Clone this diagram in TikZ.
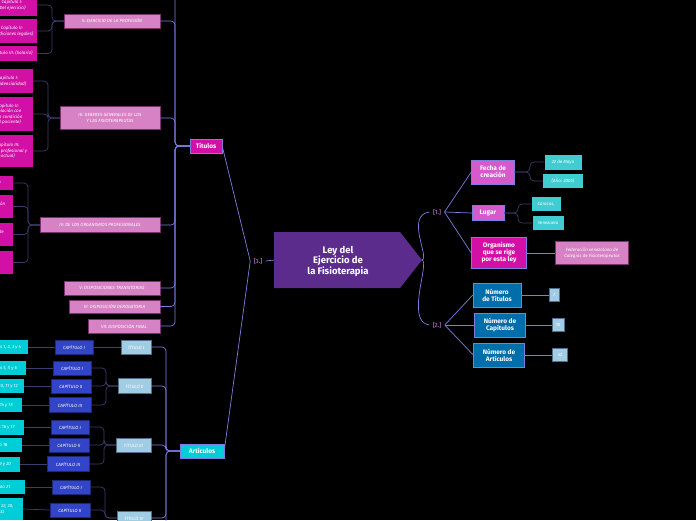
\documentclass[tikz,border=0pt]{standalone}
\usepackage{fontspec}
\setmainfont{Fira Sans}
\definecolor{cpur}{RGB}{92,44,140}
\definecolor{cmag}{RGB}{210,16,165}
\definecolor{cmag2}{RGB}{215,90,205}
\definecolor{cpink}{RGB}{214,130,196}
\definecolor{cpinkd}{RGB}{120,50,110}
\definecolor{ccyan}{RGB}{0,205,215}
\definecolor{ctq}{RGB}{64,205,210}
\definecolor{ccap}{RGB}{50,68,200}
\definecolor{ccapd}{RGB}{30,40,120}
\definecolor{clb}{RGB}{160,205,228}
\definecolor{clbd}{RGB}{80,110,140}
\definecolor{cblu}{RGB}{0,110,170}
\definecolor{cline}{RGB}{125,125,225}
\definecolor{cdark}{RGB}{60,60,110}
\definecolor{clbl}{RGB}{150,90,160}
\begin{document}
\begin{tikzpicture}[x=1pt,y=-1pt,
 bx/.style={inner sep=0pt,align=center,text=white},
 head/.style={bx,font=\fontsize{6.5}{7}\selectfont\bfseries,draw=cline},
 leaf/.style={bx,font=\fontsize{4.5}{5.5}\selectfont\itshape},
 mag/.style={leaf,fill=cmag},
 pink/.style={leaf,fill=cpink,draw=cpinkd},
 cyan/.style={leaf,fill=ccyan},
 tq/.style={leaf,fill=ctq},
 capbox/.style={leaf,fill=ccap,draw=ccapd},
 lb/.style={leaf,fill=clb,draw=clbd},
 blu/.style={head,fill=cblu},
 main/.style={draw=cline,line width=0.7pt},
 sub/.style={draw=cdark,line width=0.7pt,rounded corners=4pt},
 subm/.style={draw=cline,line width=0.7pt,rounded corners=4pt},
 lbl/.style={font=\fontsize{6}{7}\selectfont\bfseries,text=clbl}]
\fill[black] (0,0) rectangle (696,520);
\useasboundingbox (0,0) rectangle (696,520);
\clip (0,0) rectangle (696,520);
% central
\fill[cpur] (274,232) -- (400,232) -- (422,260) -- (400,288) -- (274,288) -- cycle;
\node[bx,font=\fontsize{9.5}{10.5}\selectfont\bfseries] (c) at (338,261) {Ley del\\Ejercicio de\\la Fisioterapia};
\coordinate (ce) at (422,260);
\coordinate (cw) at (274,260);
\node[lbl] (n1) at (437,212) {[1.]};
\node[lbl] (n2) at (437,325) {[2.]};
\node[lbl] (n3) at (258,261) {[3.]};
\draw[main] (ce) .. controls (430,258) and (405,215) .. (n1.west);
\draw[main] (ce) .. controls (430,262) and (405,322) .. (n2.west);
\draw[main] (cw) -- (n3.east);
% right branch 1
\node[head,fill=cmag2,minimum width=43pt,minimum height=24pt] (fe) at (493,172) {Fecha de\\creación};
\node[head,fill=cmag2,minimum width=32pt,minimum height=15pt] (lu) at (488,213) {Lugar};
\node[head,fill=cmag,minimum width=55pt,minimum height=31pt] (or) at (499,253) {Organismo\\que se rige\\por esta ley};
\draw[main] (n1.east) -- (fe.west); \draw[main] (n1.east) -- (lu.west); \draw[main] (n1.east) -- (or.west);
\node[tq,minimum width=37pt,minimum height=15pt] (f1) at (563,162) {22 de Mayo};
\node[tq,minimum width=40pt,minimum height=14pt] (f2) at (563,181) {(Año: 2005)};
\node[tq,minimum width=29pt,minimum height=14pt] (l1) at (546,204) {Caracas,};
\node[tq,minimum width=31pt,minimum height=14pt] (l2) at (548,223) {Venezuela};
\node[pink,minimum width=73pt,minimum height=23pt] (o1) at (592,253) {Federación venezolana de\\Colegios de Fisioterapeutas};
\draw[sub] (fe.east) -- (530,172) |- (f1.west); \draw[sub] (fe.east) -- (530,172) |- (f2.west);
\draw[sub] (lu.east) -- (518,213) |- (l1.west); \draw[sub] (lu.east) -- (518,213) |- (l2.west);
\draw[main] (or.east) -- (o1.west);
% right branch 2
\node[blu,minimum width=48pt,minimum height=24pt] (nt) at (497,295) {Número\\de Títulos};
\node[blu,minimum width=51pt,minimum height=24pt] (nc) at (500,325) {Número de\\Capítulos};
\node[blu,minimum width=51pt,minimum height=24pt] (na) at (499,355) {Número de\\Artículos};
\draw[main] (n2.east) -- (nt.west); \draw[main] (n2.east) -- (nc.west); \draw[main] (n2.east) -- (na.west);
\node[lb,minimum width=10pt,minimum height=13pt] (v1) at (554,295) {7};
\node[lb,minimum width=12pt,minimum height=13pt] (v2) at (558,325) {18};
\node[lb,minimum width=15pt,minimum height=13pt] (v3) at (560,355) {42};
\draw[main] (nt.east) -- (v1.west); \draw[main] (nc.east) -- (v2.west); \draw[main] (na.east) -- (v3.west);
% Titulos
\node[head,fill=cmag,minimum width=32pt,minimum height=14pt] (tit) at (206,146) {Títulos};
\node[head,fill=ccyan,minimum width=44pt,minimum height=14pt] (art) at (202,451) {Artículos};
\draw[main] (n3.west) -- (tit.east);
\draw[main] (n3.west) -- (art.east);
\node[pink,minimum width=96pt,minimum height=14pt] (t2) at (112,21) {II: EJERCICIO DE LA PROFESIÓN};
\node[pink,minimum width=100pt,minimum height=23pt] (t3) at (110,118) {III: DEBERES GENERALES DE LOS\\Y LAS FISIOTERAPEUTAS};
\node[pink,minimum width=120pt,minimum height=15pt] (t4) at (100,225) {IV: DE LOS ORGANISMOS PROFESIONALES};
\node[pink,minimum width=96pt,minimum height=14pt] (t5) at (112,288) {V: DISPOSICIONES TRANSITORIAS};
\node[pink,minimum width=91pt,minimum height=13pt] (t6) at (114.5,306.5) {VI: DISPOSICIÓN DEROGATORIA};
\node[pink,minimum width=72pt,minimum height=14pt] (t7) at (124,326) {VII: DISPOSICIÓN FINAL};
\draw[subm] (tit.west) -- (175,146) -- (175,-5);
\foreach \t in {t2,t3,t4,t5,t6,t7} \draw[subm] (tit.west) -- (175,146) |- (\t.east);
% magenta leaves
\node[mag,anchor=east,minimum width=50pt,minimum height=21pt] (m1) at (37,5) {Capítulo I:\\(Del ejercicio)};
\node[mag,anchor=east,minimum width=50pt,minimum height=24pt] (m2) at (37,31) {Capítulo II:\\(Condiciones legales)};
\node[mag,anchor=east,minimum width=50pt,minimum height=15pt] (m3) at (37,53.5) {Capítulo III: (Salario)};
\node[mag,anchor=east,minimum width=50pt,minimum height=24pt] (m4) at (33,81) {Capítulo I:\\(Confidencialidad)};
\node[mag,anchor=east,minimum width=50pt,minimum height=34pt] (m5) at (33,114) {Capítulo II:\\(Relación con\\otra condición\\del paciente)};
\node[mag,anchor=east,minimum width=50pt,minimum height=32pt] (m6) at (33,151) {Capítulo III:\\(Ética profesional y\\actual)};
\node[mag,anchor=east,minimum width=50pt,minimum height=14pt] (m7) at (13,183) {(Del Colegio)};
\node[mag,anchor=east,minimum width=50pt,minimum height=23pt] (m8) at (13,206.5) {(De la Federación\\Venezolana)};
\node[mag,anchor=east,minimum width=50pt,minimum height=23pt] (m9) at (13,234.5) {(Del Tribunal de\\Ética)};
\node[mag,anchor=east,minimum width=50pt,minimum height=23pt] (m10) at (13,262.5) {(De los\\Gremios)};
\foreach \m in {m1,m2,m3} \draw[sub] (t2.west) -- (52,21) |- (\m.east);
\foreach \m in {m4,m5,m6} \draw[sub] (t3.west) -- (48,118) |- (\m.east);
\foreach \m in {m7,m8,m9,m10} \draw[sub] (t4.west) -- (28,225) |- (\m.east);
% Articulos
\node[lb,minimum width=30pt,minimum height=14pt] (a1) at (136,347) {TÍTULO I};
\node[lb,minimum width=33pt,minimum height=15pt] (a2) at (134.5,386) {TÍTULO II};
\node[lb,minimum width=35pt,minimum height=14pt] (a3) at (133.5,445) {TÍTULO III};
\node[lb,minimum width=34pt,minimum height=14pt] (a4) at (134,518) {TÍTULO IV};
\draw[subm] (art.west) -- (166,451) -- (166,525);
\foreach \a in {a1,a2,a3,a4} \draw[subm] (art.west) -- (166,451) |- (\a.east);
\node[capbox,minimum width=38pt,minimum height=14pt] (c1) at (74,347) {CAPÍTULO I};
\node[capbox,minimum width=38pt,minimum height=14pt] (c2) at (72,368) {CAPÍTULO I};
\node[capbox,minimum width=40pt,minimum height=14pt] (c3) at (71,386) {CAPÍTULO II};
\node[capbox,minimum width=42pt,minimum height=15pt] (c4) at (70,405) {CAPÍTULO III};
\node[capbox,minimum width=38pt,minimum height=14pt] (c5) at (70,427) {CAPÍTULO I};
\node[capbox,minimum width=40pt,minimum height=14pt] (c6) at (69,445) {CAPÍTULO II};
\node[capbox,minimum width=42pt,minimum height=15pt] (c7) at (68,464) {CAPÍTULO III};
\node[capbox,minimum width=38pt,minimum height=14pt] (c8) at (71,487) {CAPÍTULO I};
\node[capbox,minimum width=40pt,minimum height=14pt] (c9) at (70,510) {CAPÍTULO II};
\draw[sub] (a1.west) -- (c1.east);
\foreach \c in {c2,c3,c4} \draw[sub] (a2.west) -- (106,386) |- (\c.east);
\foreach \c in {c5,c6,c7} \draw[sub] (a3.west) -- (104,445) |- (\c.east);
\foreach \c in {c8,c9} \draw[sub] (a4.west) -- (105,518) |- (\c.east);
\node[cyan,anchor=east,minimum width=50pt,minimum height=14pt] (d1) at (28,347) {Artículos 1, 2, 3 y 4};
\node[cyan,anchor=east,minimum width=50pt,minimum height=14pt] (d2) at (26,368) {Artículos 5, 5 y 6};
\node[cyan,anchor=east,minimum width=50pt,minimum height=14pt] (d3) at (24,386) {Artículos 10, 11 y 12};
\node[cyan,anchor=east,minimum width=50pt,minimum height=14pt] (d4) at (22,405) {Artículos 14 y 15};
\node[cyan,anchor=east,minimum width=50pt,minimum height=15pt] (d5) at (24,427) {Artículos 16 y 17};
\node[cyan,anchor=east,minimum width=50pt,minimum height=14pt] (d6) at (22,445) {Artículo 18};
\node[cyan,anchor=east,minimum width=50pt,minimum height=15pt] (d7) at (20,464) {Artículos 19 y 20};
\node[cyan,anchor=east,minimum width=50pt,minimum height=14pt] (d8) at (25,487) {Artículo 21};
\node[cyan,anchor=east,minimum width=50pt,minimum height=22pt] (d9) at (23,509) {Artículos 22, 30,\\32 y 33};
\foreach \i in {1,...,9} \draw[sub] (c\i.west) -- (d\i.east);
\end{tikzpicture}
\end{document}
